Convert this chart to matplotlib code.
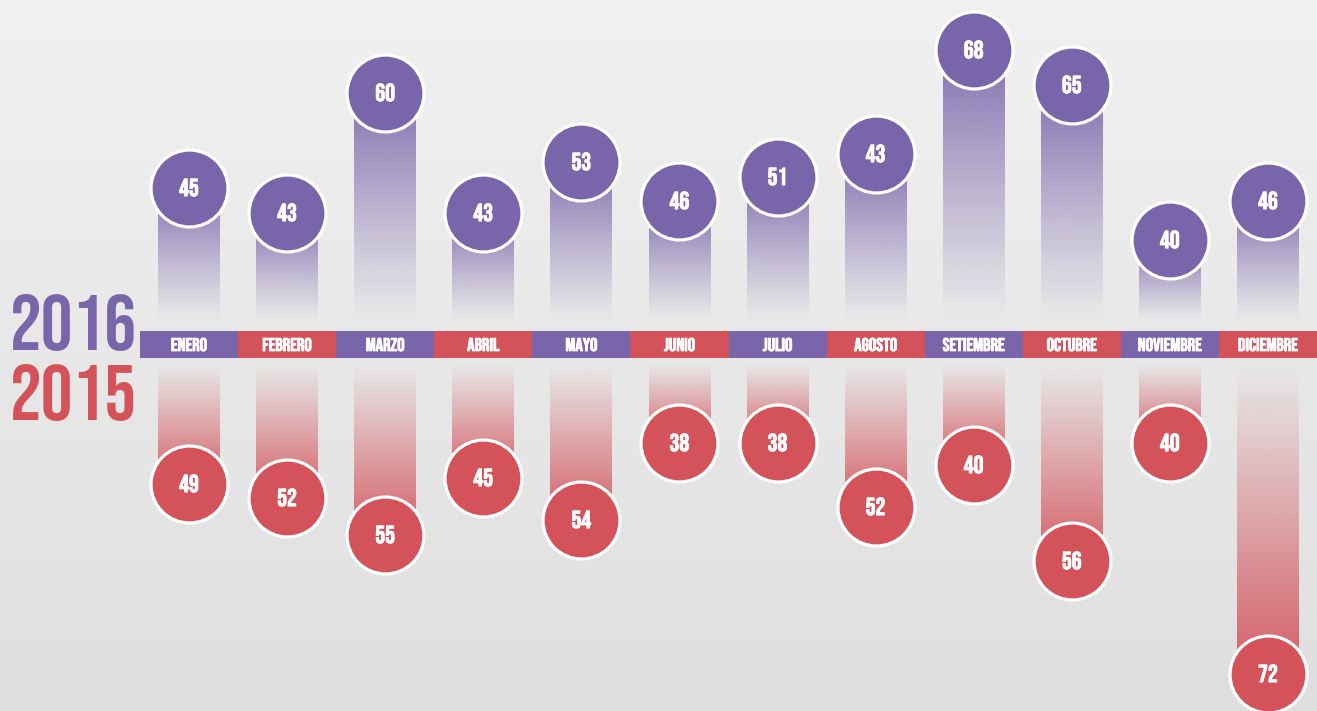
import numpy as np
import matplotlib
matplotlib.use('Agg')
import matplotlib.pyplot as plt
import matplotlib.patheffects as pe
from matplotlib.colors import to_rgb

# data
months = ['ENERO', 'FEBRERO', 'MARZO', 'ABRIL', 'MAYO', 'JUNIO', 'JULIO',
          'AGOSTO', 'SETIEMBRE', 'OCTUBRE', 'NOVIEMBRE', 'DICIEMBRE']
vals_2016 = [45, 43, 60, 43, 53, 46, 51, 43, 68, 65, 40, 46]
vals_2015 = [49, 52, 55, 45, 54, 38, 38, 52, 40, 56, 40, 72]
# drawn bar lengths (the infographic does not scale them exactly to the values)
len_2016 = [157, 132, 252, 132, 183, 144, 168, 191, 295, 260, 105, 144]
len_2015 = [139, 153, 190, 133, 175, 98, 98, 162, 120, 216, 98, 329]

PURPLE = '#7965aa'
RED = '#d4525a'
FONT = ['Bebas Neue', 'DejaVu Sans']
bold = [pe.withStroke(linewidth=0.6, foreground='white')]

fig = plt.figure(figsize=(13.17, 7.11), dpi=100)
ax = fig.add_axes([0, 0, 1, 1])
ax.set_axis_off()

cell = 1317 - 140  # band width in px
xmin = -140 / (cell / 12) - 0.5
xmax = 11.5
ymin, ymax = -366.5, 344.5

# background gradient
bg = np.linspace(0.945, 0.875, 256).reshape(-1, 1)
ax.imshow(np.dstack([bg, bg, bg]), extent=(xmin, xmax, ymin, ymax),
          aspect='auto', origin='upper', zorder=0, interpolation='bilinear')

x = np.arange(12)
bw = 0.63
band_h = 13.5

def grad_bar(xc, y0, y1, color, strong_top):
    # y0 < y1 ; alpha fades to 0 at the band side
    t = np.linspace(0, 1, 256) ** 1.1
    if not strong_top:
        t = t[::-1]
    rgba = np.zeros((256, 1, 4))
    rgba[..., :3] = to_rgb(color)
    rgba[:, 0, 3] = 0.92 * t
    ax.imshow(rgba, extent=(xc - bw / 2, xc + bw / 2, y0, y1),
              aspect='auto', origin='lower', zorder=1, interpolation='bilinear')

for i in range(12):
    grad_bar(x[i], 24, len_2016[i], PURPLE, True)
    grad_bar(x[i], -len_2015[i], -18, RED, False)

# month band
band_cols = [PURPLE if i % 2 == 0 else RED for i in range(12)]
ax.bar(x, 2 * band_h, bottom=-band_h, width=1.0, color=band_cols, zorder=2)
for i, m in enumerate(months):
    ax.text(x[i], -6.5, m, color='white', ha='center', va='baseline',
            fontsize=13.3, family=FONT, zorder=5, path_effects=bold)

# circles
ms = 3070
ax.scatter(x, len_2016, s=ms, color=PURPLE, edgecolor='white', linewidth=2.3, zorder=3)
ax.scatter(x, [-v for v in len_2015], s=ms, color=RED, edgecolor='white', linewidth=2.3, zorder=3)
for i in range(12):
    ax.text(x[i], len_2016[i] - 8.6, str(vals_2016[i]), color='white', ha='center',
            va='baseline', fontsize=17.8, family=FONT, zorder=4, path_effects=bold)
    ax.text(x[i], -len_2015[i] - 8.6, str(vals_2015[i]), color='white', ha='center',
            va='baseline', fontsize=17.8, family=FONT, zorder=4, path_effects=bold)

# year labels
ax.text(xmin + 10 / (cell / 12), -5.5, '2016', color=PURPLE, ha='left', va='baseline',
        fontsize=57, family=FONT, zorder=5)
ax.text(xmin + 10 / (cell / 12), -75.5, '2015', color=RED, ha='left', va='baseline',
        fontsize=57, family=FONT, zorder=5)

ax.set_xlim(xmin, xmax)
ax.set_ylim(ymin, ymax)
fig.savefig('out.png', dpi=100)
